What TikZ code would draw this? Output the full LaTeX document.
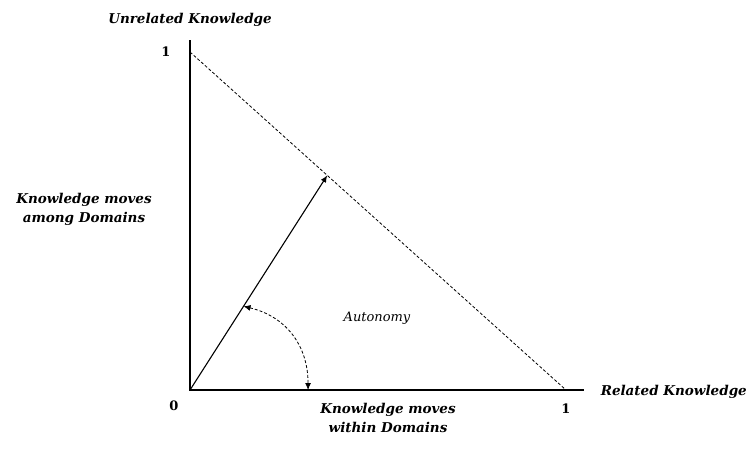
\documentclass[tikz,border=0pt]{standalone}
\usepackage{fontspec}
\setmainfont{DejaVu Serif}
\usepackage{tikz}
\usetikzlibrary{arrows.meta, calc}

\begin{document}
\begin{tikzpicture}[
    x=1pt, y=-1pt,
    axis/.style={line width=2.6pt},
    guide/.style={densely dashed, line width=0.8pt},
    vec/.style={-{Latex[length=7pt, width=6pt]}, line width=1.1pt},
    swing/.style={{Latex[length=7pt, width=6pt]}-{Latex[length=7pt, width=6pt]}, densely dashed, line width=0.8pt},
    lab/.style={font=\fontsize{13.5}{19}\selectfont\bfseries\itshape, align=center},
    tick/.style={font=\fontsize{13}{15}\selectfont\bfseries}
]
\useasboundingbox (0,0) rectangle (749,450);
% axes
\coordinate (O) at (190,390);
\coordinate (ytop) at (190,40);
\coordinate (xend) at (584,390);
\coordinate (y1) at (190,52);
\coordinate (x1) at (566,390);
\draw[axis] (ytop) -- (O) -- (xend);
\draw[guide] (y1) -- (x1);
% vector and angle
\coordinate (tip) at ($(y1)!0.365!(x1)$);
\draw[vec] (O) -- (tip);
\coordinate (amark) at ($(O)!0.39!(tip)$);
\coordinate (bmark) at ($(O)!0.314!(x1)$);
\draw[swing] (amark) .. controls +(42,10) and +(0,-45) .. (bmark);
% labels
\node[lab] (unrel) at (190,20) {Unrelated Knowledge};
\node[lab, anchor=east, inner sep=1pt] (rel) at (748,392) {Related Knowledge};
\node[lab] (among) at (84,209) {Knowledge moves\\among Domains};
\node[lab] (within) at (388,418) {Knowledge moves\\within Domains};
\node[font=\fontsize{13}{15}\selectfont\itshape] (auto) at (377,318) {Autonomy};
\node[tick] (yone) at (166,52) {1};
\node[tick] (xone) at (566,409) {1};
\node[tick] (zero) at (174,406) {0};
\end{tikzpicture}
\end{document}
